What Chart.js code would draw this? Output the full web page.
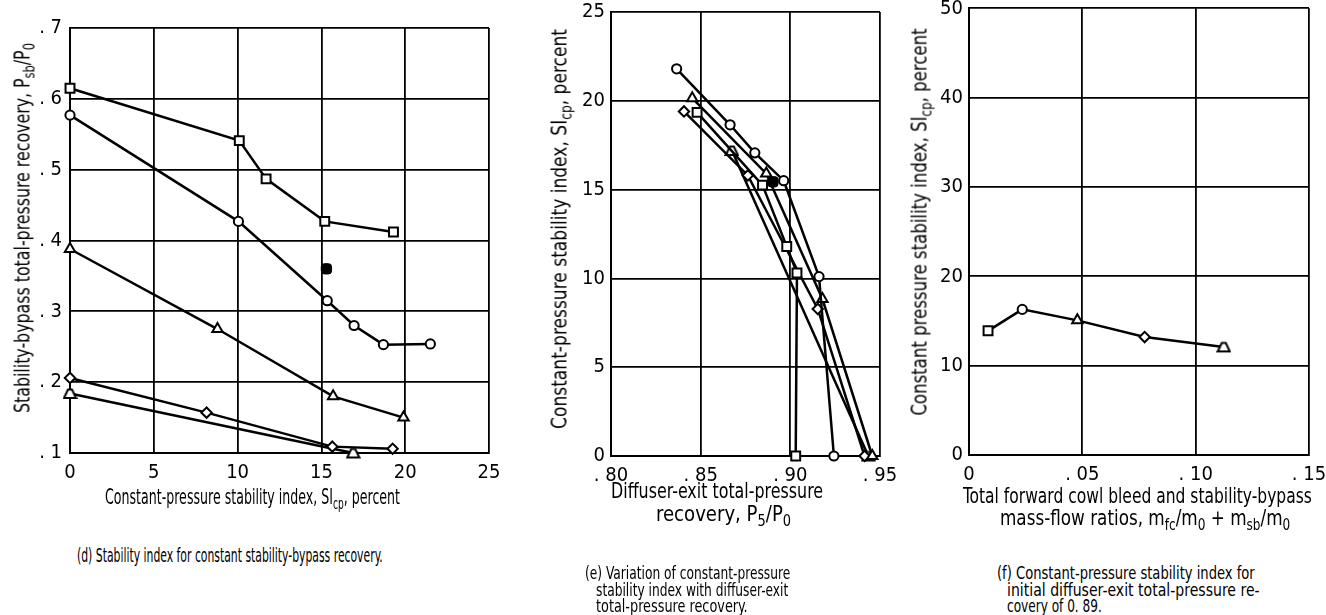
<!DOCTYPE html>
<html>
<head>
<meta charset="utf-8">
<script src="https://cdn.jsdelivr.net/npm/chart.js@4.4.1/dist/chart.umd.min.js"></script>
<style>
  html, body { margin: 0; padding: 0; background: #fff; }
  #page { position: relative; width: 1326px; height: 615px; overflow: hidden; background: #fff; }
  canvas { position: absolute; top: 0; }
  .t {
    position: absolute; white-space: nowrap; color: #000; line-height: 1;
    font-family: "DejaVu Sans", sans-serif; font-stretch: condensed;
  }
  .ttl { font-size: 21px; }
  .cap { font-size: 17px; }
  .capd { font-size: 19px; }
  sub { font-size: 0.72em; vertical-align: -0.35em; line-height: 0; }
</style>
</head>
<body>
<div id="page">
  <canvas id="chartD" width="500" height="490" style="left:0px"></canvas>
  <canvas id="chartE" width="360" height="490" style="left:540px"></canvas>
  <canvas id="chartF" width="426" height="490" style="left:900px"></canvas>

  <!-- (d) -->
  <div class="t ttl rot" data-cx="23" data-cy="228" data-w="370">Stability-bypass total-pressure recovery, P<sub>sb</sub>/P<sub>0</sub></div>
  <div class="t ttl" data-x="105" data-cy="497" data-w="295">Constant-pressure stability index, SI<sub>cp</sub>, percent</div>
  <div class="t capd" data-x="77" data-cy="555" data-w="306">(d) Stability index for constant stability-bypass recovery.</div>

  <!-- (e) -->
  <div class="t ttl rot" data-cx="560" data-cy="229" data-w="400">Constant-pressure stability index, SI<sub>cp</sub>, percent</div>
  <div class="t ttl" data-x="611" data-cy="491" data-w="212">Diffuser-exit total-pressure</div>
  <div class="t ttl" data-x="656" data-cy="514" data-w="135">recovery, P<sub>5</sub>/P<sub>0</sub></div>
  <div class="t cap" data-x="585" data-cy="573" data-w="205">(e) Variation of constant-pressure</div>
  <div class="t cap" data-x="596" data-cy="590" data-w="192">stability index with diffuser-exit</div>
  <div class="t cap" data-x="596" data-cy="606" data-w="152">total-pressure recovery.</div>

  <!-- (f) -->
  <div class="t ttl rot" data-cx="920" data-cy="222" data-w="387">Constant pressure stability index, SI<sub>cp</sub>, percent</div>
  <div class="t ttl" data-x="963" data-cy="496" data-w="349">Total forward cowl bleed and stability-bypass</div>
  <div class="t ttl" data-x="1000" data-cy="518" data-w="290">mass-flow ratios, m<sub>fc</sub>/m<sub>0</sub> + m<sub>sb</sub>/m<sub>0</sub></div>
  <div class="t cap" data-x="997" data-cy="573" data-w="258">(f) Constant-pressure stability index for</div>
  <div class="t cap" data-x="1007" data-cy="590" data-w="253">initial diffuser-exit total-pressure re-</div>
  <div class="t cap" data-x="1007" data-cy="606" data-w="95">covery of 0. 89.</div>
</div>

<script>
// ---- (d) stability-bypass recovery vs SIcp ----
const dSquareX = [0, 10.1, 11.7, 15.2, 19.3];
const dSquareY = [0.615, 0.541, 0.487, 0.427, 0.412];
const dCircleX = [0, 10.05, 15.35, 16.95, 18.7, 21.5];
const dCircleY = [0.577, 0.427, 0.315, 0.28, 0.253, 0.254];
const dTriX = [0, 8.8, 15.7, 19.9];
const dTriY = [0.388, 0.275, 0.18, 0.15];
const dDiamondX = [0, 8.15, 15.65, 19.25];
const dDiamondY = [0.206, 0.157, 0.109, 0.106];
const dTrapX = [0, 16.9];
const dTrapY = [0.184, 0.1];
const dFilledX = [15.3];
const dFilledY = [0.36];
const dTicksX = [0, 5, 10, 15, 20, 25];
const dTicksY = [0.1, 0.2, 0.3, 0.4, 0.5, 0.6, 0.7];

// ---- (e) SIcp vs diffuser-exit recovery ----
const eSquareX = [0.848, 0.8845, 0.898, 0.9037, 0.903];
const eSquareY = [19.35, 15.25, 11.8, 10.3, 0];
const eCircleX = [0.8366, 0.8664, 0.8802, 0.8963, 0.916, 0.9243];
const eCircleY = [21.8, 18.65, 17.07, 15.5, 10.1, 0];
const eTriX = [0.8453, 0.8866, 0.9179, 0.9457];
const eTriY = [20.15, 15.9, 8.84, 0];
const eDiamondX = [0.8407, 0.8763, 0.9153, 0.9414];
const eDiamondY = [19.4, 15.8, 8.28, 0];
const eTrapX = [0.8674, 0.9435];
const eTrapY = [17.2, 0];
const eFilledX = [0.8903];
const eFilledY = [15.44];
const eTicksX = [0.80, 0.85, 0.90, 0.95];
const eTicksY = [0, 5, 10, 15, 20, 25];

// ---- (f) SIcp vs bleed + bypass mass-flow ratio ----
const fX = [0.0084, 0.0235, 0.0478, 0.0775, 0.1124];
const fY = [13.9, 16.3, 15.07, 13.2, 12.1];
const fTicksX = [0, 0.05, 0.10, 0.15];
const fTicksY = [0, 10, 20, 30, 40, 50];

const FONT = '"DejaVu Sans", sans-serif';

// flat-topped triangle used for the fifth configuration
function trapMarker() {
  const c = document.createElement('canvas');
  c.width = 15; c.height = 13;
  const g = c.getContext('2d');
  g.beginPath();
  g.moveTo(1.5, 11); g.lineTo(13.5, 11); g.lineTo(9.5, 2.5); g.lineTo(5.5, 2.5); g.closePath();
  g.fillStyle = '#fff'; g.fill();
  g.lineWidth = 2; g.strokeStyle = '#000'; g.stroke();
  return c;
}
const trap = trapMarker();

// narrow tick lettering like the original
const condensed = {
  id: 'condensed',
  beforeDraw(chart) { chart.ctx.fontStretch = 'condensed'; }
};

function pts(xs, ys) {
  return xs.map((x, i) => ({ x: x, y: ys[i] }));
}

function series(xs, ys, style, radius) {
  return {
    data: pts(xs, ys),
    showLine: true,
    borderColor: '#000',
    borderWidth: 2.5,
    pointStyle: style,
    pointRadius: radius,
    pointBorderColor: '#000',
    pointBackgroundColor: '#fff',
    pointBorderWidth: 2,
    clip: false
  };
}

function filled(xs, ys) {
  return {
    data: pts(xs, ys),
    showLine: false,
    pointStyle: 'rectRounded',
    pointRadius: 6,
    pointBorderColor: '#000',
    pointBackgroundColor: '#000',
    pointBorderWidth: 1,
    clip: false
  };
}

function axis(ticks, fmt, pad, size, isX) {
  return {
    type: 'linear',
    min: ticks[0],
    max: ticks[ticks.length - 1],
    afterBuildTicks: (s) => { s.ticks = ticks.map(v => ({ value: v })); },
    ticks: {
      autoSkip: false, maxRotation: 0, padding: pad, color: '#000',
      font: { family: FONT, size: 20 },
      callback: fmt
    },
    grid: { color: '#000', lineWidth: 1.8, drawTicks: false },
    border: { color: '#000', width: 2 },
    afterFit: (s) => {
      if (isX) { s.height = size; s.paddingLeft = 0; s.paddingRight = 0; }
      else { s.width = size; s.paddingTop = 0; s.paddingBottom = 0; }
    }
  };
}

function makeChart(id, datasets, xAxis, yAxis, padding) {
  new Chart(document.getElementById(id), {
    type: 'scatter',
    data: { datasets: datasets },
    options: {
      responsive: false,
      animation: false,
      layout: { padding: padding },
      plugins: { legend: { display: false }, tooltip: { enabled: false } },
      scales: { x: xAxis, y: yAxis }
    },
    plugins: [condensed]
  });
}

makeChart('chartD', [
  filled(dFilledX, dFilledY),
  series(dSquareX, dSquareY, 'rect', 6.3),
  series(dCircleX, dCircleY, 'circle', 4.6),
  series(dTriX, dTriY, 'triangle', 6),
  series(dDiamondX, dDiamondY, 'rectRot', 5.2),
  series(dTrapX, dTrapY, trap, 5)
],
  axis(dTicksX, v => String(v), 8, 37, true),
  axis(dTicksY, v => '. ' + Math.round(v * 10), 8, 70, false),
  { top: 28, right: 11, left: 0, bottom: 0 });

makeChart('chartE', [
  filled(eFilledX, eFilledY),
  series(eSquareX, eSquareY, 'rect', 6.3),
  series(eCircleX, eCircleY, 'circle', 4.6),
  series(eTriX, eTriY, 'triangle', 6),
  series(eDiamondX, eDiamondY, 'rectRot', 5.2),
  series(eTrapX, eTrapY, trap, 5)
],
  axis(eTicksX, v => '. ' + Math.round(v * 100), 8, 34, true),
  axis(eTicksY, v => String(v), 6, 71, false),
  { top: 12, right: 20, left: 0, bottom: 0 });

makeChart('chartF', [
  series(fX, fY, ['rect', 'circle', 'triangle', 'rectRot', trap], [6.3, 4.6, 6, 5.2, 5])
],
  axis(fTicksX, v => v === 0 ? '0' : '. ' + String(Math.round(v * 100)).padStart(2, '0'), 8, 35, true),
  axis(fTicksY, v => String(v), 6, 69, false),
  { top: 5, right: 17, left: 0, bottom: 0 });

// place the html texts and squeeze them to the measured widths
document.querySelectorAll('.t').forEach(el => {
  const w = el.offsetWidth;
  const k = (+el.dataset.w) / w;
  if (el.classList.contains('rot')) {
    el.style.left = el.dataset.cx + 'px';
    el.style.top = el.dataset.cy + 'px';
    el.style.transform = 'translate(-50%,-50%) rotate(-90deg) scaleX(' + k + ')';
  } else {
    el.style.left = el.dataset.x + 'px';
    el.style.top = el.dataset.cy + 'px';
    el.style.transformOrigin = 'left center';
    el.style.transform = 'translateY(-50%) scaleX(' + k + ')';
  }
});
</script>
</body>
</html>
